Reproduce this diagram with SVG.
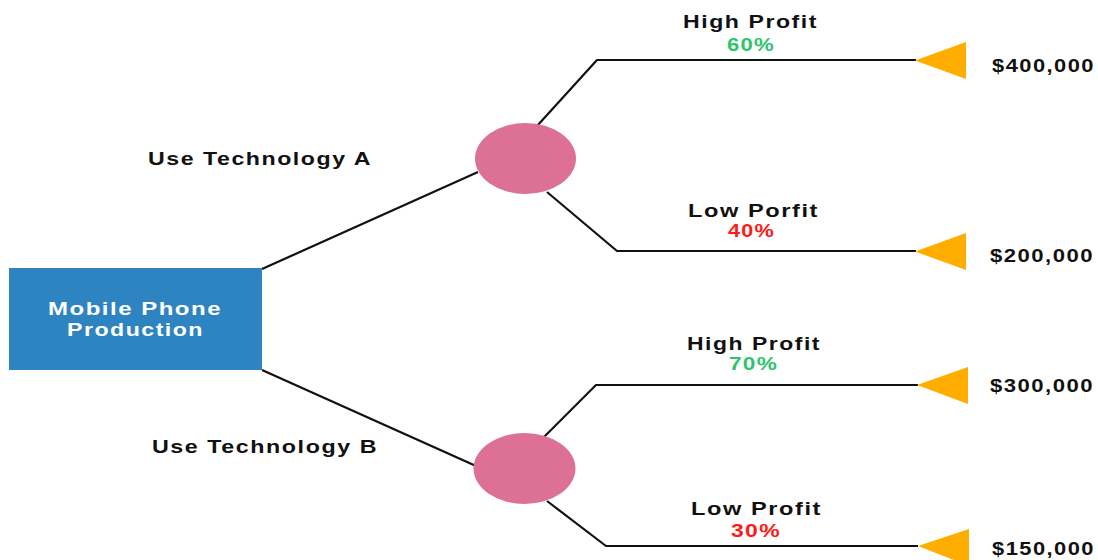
<svg xmlns="http://www.w3.org/2000/svg" width="1098" height="560" viewBox="0 0 1098 560">
<style>
.lbl{font-family:"Liberation Sans",Arial,sans-serif;font-weight:bold;font-size:18px;fill:#111;letter-spacing:1.2px;}
.pct{font-family:"Liberation Sans",Arial,sans-serif;font-weight:bold;font-size:17.5px;letter-spacing:1px;}
.g{fill:#2DC46E;}
.r{fill:#FF1A1A;}
.wt{font-family:"Liberation Sans",Arial,sans-serif;font-weight:bold;font-size:19px;fill:#fff;letter-spacing:1.2px;}
.ln{fill:none;stroke:#111;stroke-width:2.2;stroke-linejoin:round;}
.chance{fill:#DC7095;}
.end{fill:#FFAE00;}
</style>
<rect width="1098" height="560" fill="#fff"/>
<g id="connectors">
<path class="ln" d="M262,269 L478,172"/>
<path class="ln" d="M262,370 L476,466"/>
<path class="ln" d="M537,126 L597,60 L916,60"/>
<path class="ln" d="M547,192 L617,251 L916,251"/>
<path class="ln" d="M544,437 L596,385 L918,385"/>
<path class="ln" d="M547,501 L606,546 L918,546"/>
</g>
<g id="root">
<rect x="9" y="268" width="253" height="102" fill="#2E84C1"/>
<text class="wt" x="48" y="315" textLength="174" lengthAdjust="spacingAndGlyphs">Mobile Phone</text>
<text class="wt" x="67" y="336" textLength="137" lengthAdjust="spacingAndGlyphs">Production</text>
</g>
<g id="label-tech-a"><text class="lbl" x="148" y="165" textLength="224" lengthAdjust="spacingAndGlyphs">Use Technology A</text></g>
<g id="label-tech-b"><text class="lbl" x="152" y="453" textLength="226" lengthAdjust="spacingAndGlyphs">Use Technology B</text></g>
<g id="chance-a"><ellipse class="chance" cx="525.5" cy="158.5" rx="50.5" ry="35.5"/></g>
<g id="chance-b"><ellipse class="chance" cx="524.5" cy="468.5" rx="51" ry="35.5"/></g>
<g id="branch-a-high">
<text class="lbl" x="683" y="28" textLength="135" lengthAdjust="spacingAndGlyphs">High Profit</text>
<text class="pct g" x="727" y="51" textLength="48" lengthAdjust="spacingAndGlyphs">60%</text>
</g>
<g id="branch-a-low">
<text class="lbl" x="688" y="217" textLength="131" lengthAdjust="spacingAndGlyphs">Low Porfit</text>
<text class="pct r" x="728" y="237" textLength="47" lengthAdjust="spacingAndGlyphs">40%</text>
</g>
<g id="branch-b-high">
<text class="lbl" x="687" y="350" textLength="134" lengthAdjust="spacingAndGlyphs">High Profit</text>
<text class="pct g" x="729" y="370" textLength="49" lengthAdjust="spacingAndGlyphs">70%</text>
</g>
<g id="branch-b-low">
<text class="lbl" x="691" y="515" textLength="131" lengthAdjust="spacingAndGlyphs">Low Profit</text>
<text class="pct r" x="731" y="537" textLength="50" lengthAdjust="spacingAndGlyphs">30%</text>
</g>
<g id="end-1"><polygon class="end" points="915,60.5 966,42 966,79"/><text class="lbl" x="992" y="72" textLength="103" lengthAdjust="spacingAndGlyphs">$400,000</text></g>
<g id="end-2"><polygon class="end" points="915,251.5 966,233 966,270"/><text class="lbl" x="990" y="262" textLength="104" lengthAdjust="spacingAndGlyphs">$200,000</text></g>
<g id="end-3"><polygon class="end" points="917,385 968,367 968,404"/><text class="lbl" x="990" y="392" textLength="104" lengthAdjust="spacingAndGlyphs">$300,000</text></g>
<g id="end-4"><polygon class="end" points="918,546 969,529 969,566"/><text class="lbl" x="992" y="555" textLength="103" lengthAdjust="spacingAndGlyphs">$150,000</text></g>
</svg>
